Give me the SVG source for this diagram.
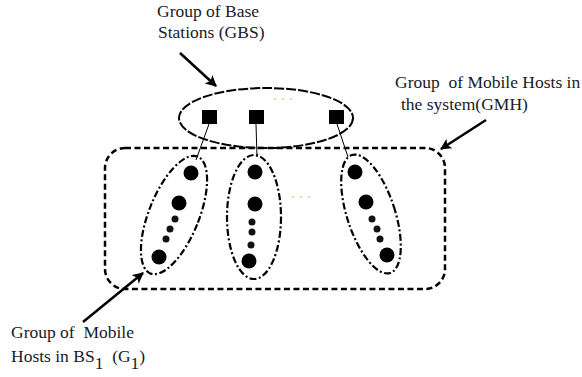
<svg xmlns="http://www.w3.org/2000/svg" width="582" height="377" viewBox="0 0 582 377">
<defs>
<marker id="ah" viewBox="0 0 10 10" refX="9" refY="5" markerWidth="4.5" markerHeight="4.5" orient="auto" markerUnits="strokeWidth">
<path d="M0,0 L10,5 L0,10 L2.5,5 Z" fill="#000"/>
</marker>
</defs>
<style>
.big{fill:#000}
.sm{fill:#111}
.grp{fill:none;stroke:#000;stroke-width:2.2;stroke-dasharray:7 2.5 2 2.5}
.arr{stroke:#000;stroke-width:2.5;fill:none;marker-end:url(#ah)}
.lnk{stroke:#000;stroke-width:1;fill:none}
.sq{fill:#000}
.dd{fill:#d9a040}
</style>
<rect width="582" height="377" fill="#fff"/>
<g id="gmh">
<rect x="105" y="148" width="340" height="141" rx="20" ry="20" fill="none" stroke="#000" stroke-width="2.5" stroke-dasharray="6 3.5"/>
<circle class="dd" cx="293" cy="197" r="0.8"/><circle class="dd" cx="301" cy="197" r="0.8"/><circle class="dd" cx="309" cy="197" r="0.8"/>
</g>
<g id="gbs">
<ellipse cx="266" cy="118" rx="87" ry="30" fill="none" stroke="#000" stroke-width="2" stroke-dasharray="10 2"/>
<rect class="sq" x="202" y="110" width="15" height="14"/>
<rect class="sq" x="249" y="110" width="15" height="14"/>
<rect class="sq" x="329" y="110" width="15" height="14"/>
<circle class="dd" cx="275" cy="99" r="0.8"/><circle class="dd" cx="283" cy="99" r="0.8"/><circle class="dd" cx="291" cy="99" r="0.8"/>
</g>
<g id="g1">
<ellipse class="grp" cx="0" cy="0" rx="25" ry="63" transform="translate(174 215) rotate(22)"/>
<circle class="big" cx="191" cy="173" r="7.5"/>
<circle class="big" cx="179" cy="203" r="7.5"/>
<circle class="sm" cx="175" cy="219" r="3.5"/>
<circle class="sm" cx="170" cy="229" r="3.5"/>
<circle class="sm" cx="166" cy="239" r="3.5"/>
<circle class="big" cx="159" cy="257" r="7.5"/>
</g>
<g id="g2">
<ellipse class="grp" cx="254" cy="217" rx="27" ry="62"/>
<circle class="big" cx="255" cy="172" r="7.5"/>
<circle class="big" cx="255" cy="204" r="7.5"/>
<circle class="sm" cx="252" cy="222" r="3.5"/>
<circle class="sm" cx="252" cy="232" r="3.5"/>
<circle class="sm" cx="251" cy="245" r="3.5"/>
<circle class="big" cx="249" cy="261" r="7.5"/>
</g>
<g id="g3">
<ellipse class="grp" cx="0" cy="0" rx="24" ry="62" transform="translate(371 214) rotate(-18)"/>
<circle class="big" cx="355" cy="172" r="7.5"/>
<circle class="big" cx="366" cy="202" r="7.5"/>
<circle class="sm" cx="372" cy="219" r="3.5"/>
<circle class="sm" cx="377" cy="229" r="3.5"/>
<circle class="sm" cx="380" cy="239" r="3.5"/>
<circle class="big" cx="387" cy="255" r="7.5"/>
</g>
<g id="connectors">
<line class="lnk" x1="209" y1="124" x2="196" y2="160"/>
<line class="lnk" x1="256" y1="124" x2="257" y2="157"/>
<line class="lnk" x1="337" y1="124" x2="348" y2="157"/>
<line class="arr" x1="180" y1="53" x2="216" y2="86"/>
<line class="arr" x1="486" y1="120" x2="441" y2="149"/>
<line class="arr" x1="83" y1="322" x2="143" y2="273"/>
</g>
<g id="labels" font-family="'Liberation Serif', 'DejaVu Serif', serif" font-size="17.5" fill="#1a1a2a">
<text x="157" y="17">Group of Base</text>
<text x="158" y="38">Stations (GBS)</text>
<text x="395" y="88" xml:space="preserve">Group  of Mobile Hosts in</text>
<text x="401" y="110">the system(GMH)</text>
<text x="11" y="338" xml:space="preserve">Group of  Mobile</text>
<text x="11" y="362">Hosts in BS<tspan dy="7">1</tspan><tspan dy="-7" xml:space="preserve">  (G</tspan><tspan dy="7">1</tspan><tspan dy="-7">)</tspan></text>
</g>
</svg>
